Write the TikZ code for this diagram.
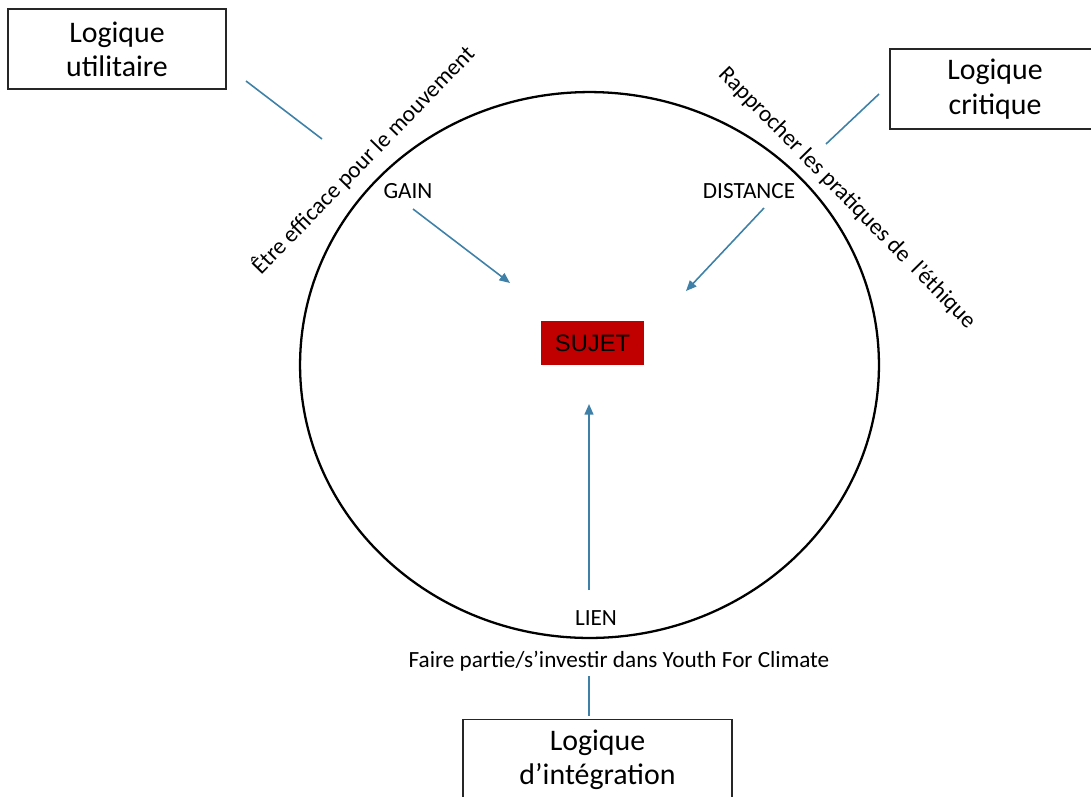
\documentclass[tikz,border=0pt]{standalone}
\usepackage{fontspec}
\setmainfont{Carlito}
\newfontfamily\arialfont{Liberation Sans}
\usetikzlibrary{arrows.meta}
\definecolor{linkblue}{RGB}{62,128,168}
\definecolor{sujetred}{RGB}{192,0,0}

\begin{document}
\begin{tikzpicture}[x=0.02cm,y=-0.02cm,
  logbox/.style={draw=black!85, line width=0.8pt, align=center, inner sep=0pt,
    minimum height=1.6cm, font=\fontsize{17}{19.5}\selectfont},
  lbl/.style={inner sep=1pt, font=\fontsize{13.2}{15}\selectfont},
  link/.style={draw=linkblue, line width=0.9pt},
  linkarrow/.style={link, -{Triangle[length=6pt,width=5pt]}}]
\useasboundingbox (0,0) rectangle (1091,796);

%%%%%%%%%%%%%%%%%%Draw The Three Logique Boxes%%%%%%%%%%%%%%%
\node[logbox, minimum width=4.36cm] (utilitaire) at (117,49) {Logique\\utilitaire};
\node[logbox, minimum width=4.2cm] (critique) at (995,89) {Logique\\critique};
\node[logbox, minimum width=5.38cm, minimum height=1.62cm] (integration) at (597.5,760) {Logique\\d’intégration};

%%%%%%%%%%%%%%%%%%Draw The Big Circle and SUJET%%%%%%%%%%%%%%
\draw[line width=1.3pt] (589.5,365) ellipse [x radius=5.79cm, y radius=5.46cm];
\node[fill=sujetred, minimum width=2.06cm, minimum height=0.88cm,
  font=\arialfont\fontsize{13.5}{15}\selectfont] (sujet) at (592.5,343) {SUJET};

%%%%%%%%%%%%%%%%%%Labels Inside and Around The Circle%%%%%%%%%%
\node[lbl] (gain) at (408,191) {GAIN};
\node[lbl] (distance) at (749,191) {DISTANCE};
\node[lbl] (lien) at (596,618) {LIEN};
\node[lbl] (youth) at (619,661) {Faire partie/s’investir dans Youth For Climate};
\node[lbl, rotate=45.7] (efficace) at (363,160) {Être efficace pour le mouvement};
\node[lbl, rotate=-45.5] (ethique) at (847,198) {Rapprocher les pratiques de~ l’éthique};

%%%%%%%%%%%%%%%%%%End Points of The Blue Lines%%%%%%%%%%%%%%%%
\coordinate (utilA) at (246,81);
\coordinate (utilB) at (322,139);
\coordinate (critA) at (879,94);
\coordinate (critB) at (826,144);
\coordinate (integA) at (589,676);
\coordinate (integB) at (589,716);
\coordinate (gainA) at (413,209);
\coordinate (gainB) at (510,283);
\coordinate (distA) at (764,208);
\coordinate (distB) at (686,291);
\coordinate (lienA) at (589,590);
\coordinate (lienB) at (589,404);

%%%%%%%%%%%%%%%%%%Draw The Blue Lines and Arrows%%%%%%%%%%%%%%
\draw[link] (utilA) -- (utilB);
\draw[link] (critA) -- (critB);
\draw[link] (integA) -- (integB);
\draw[linkarrow] (gainA) -- (gainB);
\draw[linkarrow] (distA) -- (distB);
\draw[linkarrow] (lienA) -- (lienB);

\end{tikzpicture}
\end{document}
